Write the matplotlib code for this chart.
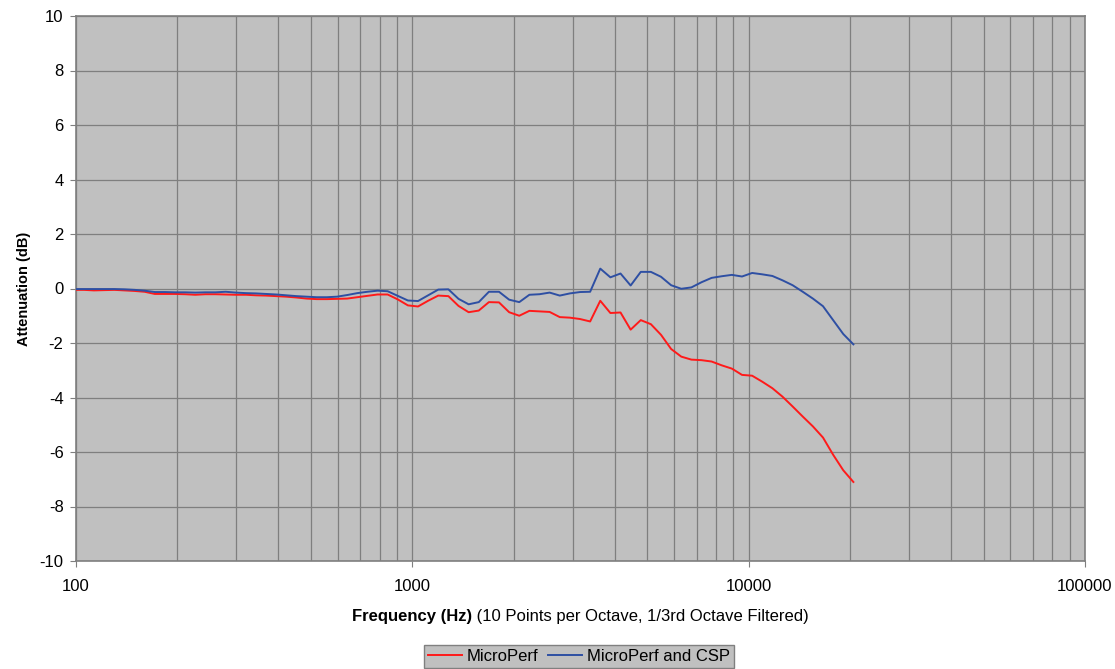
import matplotlib
matplotlib.use("Agg")
import matplotlib.pyplot as plt
from matplotlib.ticker import FixedLocator, NullFormatter, FixedFormatter

plt.rcParams['font.family'] = ['Liberation Sans', 'DejaVu Sans']

freq_hz = [98.5, 105.6, 113.1, 121.3, 130.0, 139.3, 149.3, 160.0, 171.5, 183.8,
           197.0, 211.1, 226.3, 242.5, 259.9, 278.6, 298.6, 320.0, 343.0, 367.6,
           394.0, 422.2, 452.5, 485.0, 519.8, 557.2, 597.1, 640.0, 685.9, 735.2,
           788.0, 844.5, 905.1, 970.1, 1039.7, 1114.3, 1194.3, 1280.0, 1371.9, 1470.3,
           1575.9, 1689.0, 1810.2, 1940.1, 2079.4, 2228.6, 2388.6, 2560.0, 2743.7, 2940.7,
           3151.7, 3378.0, 3620.4, 3880.2, 4158.7, 4457.2, 4777.1, 5120.0, 5487.5, 5881.3,
           6303.5, 6755.8, 7240.8, 7760.4, 8317.5, 8914.4, 9554.2, 10240.0, 10975.0, 11762.6,
           12607.0, 13511.8, 14481.6, 15521.0, 16635.0, 17828.8, 19108.0, 20480.0]

microperf = [-0.05, -0.05, -0.07, -0.06, -0.05, -0.07, -0.09, -0.12, -0.20, -0.20,
             -0.20, -0.21, -0.23, -0.21, -0.21, -0.22, -0.23, -0.23, -0.25, -0.26,
             -0.28, -0.30, -0.33, -0.37, -0.39, -0.39, -0.38, -0.37, -0.32, -0.27,
             -0.22, -0.22, -0.40, -0.62, -0.66, -0.45, -0.26, -0.28, -0.64, -0.87,
             -0.81, -0.50, -0.51, -0.87, -1.00, -0.82, -0.84, -0.86, -1.05, -1.07,
             -1.12, -1.21, -0.45, -0.90, -0.88, -1.51, -1.16, -1.31, -1.70, -2.22,
             -2.50, -2.61, -2.63, -2.68, -2.82, -2.94, -3.17, -3.20, -3.42, -3.66,
             -3.97, -4.33, -4.70, -5.06, -5.47, -6.10, -6.67, -7.10]

microperf_csp = [-0.02, -0.02, -0.02, -0.02, -0.02, -0.03, -0.05, -0.08, -0.13, -0.13,
                 -0.14, -0.14, -0.15, -0.14, -0.14, -0.12, -0.15, -0.17, -0.18, -0.20,
                 -0.22, -0.25, -0.28, -0.30, -0.32, -0.32, -0.30, -0.24, -0.17, -0.12,
                 -0.08, -0.10, -0.27, -0.44, -0.46, -0.25, -0.04, -0.03, -0.38, -0.58,
                 -0.50, -0.12, -0.12, -0.41, -0.50, -0.23, -0.21, -0.15, -0.26, -0.18,
                 -0.13, -0.12, 0.73, 0.41, 0.55, 0.11, 0.61, 0.61, 0.43, 0.12,
                 -0.01, 0.04, 0.23, 0.39, 0.45, 0.50, 0.44, 0.57, 0.52, 0.46,
                 0.30, 0.12, -0.12, -0.37, -0.65, -1.16, -1.67, -2.05]

series_names = ["MicroPerf", "MicroPerf and CSP"]
x_major = [100, 1000, 10000, 100000]
x_major_labels = ["100", "1000", "10000", "100000"]
y_ticks = [-10, -8, -6, -4, -2, 0, 2, 4, 6, 8, 10]

W, H = 1115, 669
fig = plt.figure(figsize=(W / 100, H / 100), dpi=100)
ax = fig.add_axes([76 / W, 1 - 561 / H, (1085 - 76) / W, (561 - 16) / H])
ax.set_facecolor('#C0C0C0')

ax.plot(freq_hz, microperf, color='#FF1A1A', lw=1.4, label=series_names[0], zorder=3)
ax.plot(freq_hz, microperf_csp, color='#2E4FA3', lw=1.4, label=series_names[1], zorder=4)

ax.set_xscale('log')
ax.set_xlim(100, 100000)
ax.set_ylim(-10, 10)

ax.xaxis.set_major_locator(FixedLocator(x_major))
ax.xaxis.set_major_formatter(FixedFormatter(x_major_labels))
minors = [m * d for d in (100, 1000, 10000) for m in range(2, 10)]
ax.xaxis.set_minor_locator(FixedLocator(minors))
ax.xaxis.set_minor_formatter(NullFormatter())
ax.set_yticks(y_ticks)
ax.set_yticklabels([str(v) for v in y_ticks])

gc = '#7F7F7F'
ax.grid(True, which='both', axis='x', color=gc, lw=0.9)
ax.grid(True, which='major', axis='y', color=gc, lw=0.9)
ax.set_axisbelow(True)
for s in ax.spines.values():
    s.set_color(gc)
    s.set_linewidth(1.2)
ax.tick_params(axis='both', which='major', direction='out', length=4, color=gc,
               labelsize=12, labelcolor='black', pad=5)
ax.tick_params(axis='x', which='major', pad=9)
ax.tick_params(axis='x', which='minor', length=0)

ax.set_ylabel("Attenuation (dB)", fontsize=10.5, fontweight='bold', labelpad=6)

# x label: bold part + normal part, centered under the axes
fig.canvas.draw()
renderer = fig.canvas.get_renderer()
ylab = 1 - 616 / H
t1 = fig.text(0, ylab, "Frequency (Hz)", fontsize=12, fontweight='bold',
              ha='left', va='center')
t2 = fig.text(0, ylab, " (10 Points per Octave, 1/3rd Octave Filtered)", fontsize=12,
              ha='left', va='center')
w1 = t1.get_window_extent(renderer).width
w2 = t2.get_window_extent(renderer).width
cx = (76 + 1085) / 2
start = cx - (w1 + w2) / 2
t1.set_x(start / W)
t2.set_x((start + w1) / W)

leg = fig.legend(loc='lower center', bbox_to_anchor=(579 / W, 0.001), ncol=2,
                 fontsize=12, frameon=True, fancybox=False, handlelength=2.0,
                 handletextpad=0.3, columnspacing=0.6, borderpad=0.25,
                 borderaxespad=0)
leg.get_frame().set_facecolor('#C0C0C0')
leg.get_frame().set_edgecolor('#808080')
leg.get_frame().set_alpha(1)

fig.savefig('out.png', dpi=100, facecolor='white')
